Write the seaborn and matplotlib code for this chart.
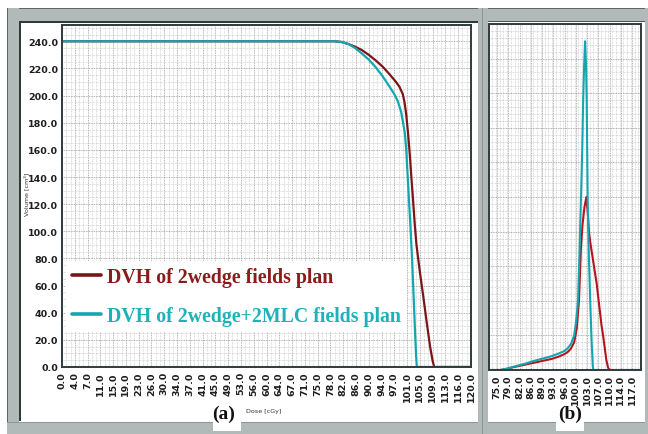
import matplotlib
matplotlib.use("Agg")
import matplotlib.pyplot as plt
from matplotlib.patches import Rectangle
from matplotlib.lines import Line2D
from matplotlib.ticker import MultipleLocator, FixedLocator, FixedFormatter
import numpy as np
import pandas as pd
import seaborn as sns

# ---- cumulative DVH (panel a): dose [cGy] vs volume [cm3] ----
cum_dose_wedge = [0, 80, 82, 84, 86, 88, 90, 92, 94, 96, 98, 99, 100, 100.5, 101,
                  101.5, 102, 102.5, 103, 103.5, 104, 105, 106, 107, 108, 108.7, 109.2, 120]
cum_vol_wedge = [240, 240, 239.5, 238, 236, 233.5, 230, 226, 221.5, 216, 210, 206.5, 201, 195, 186,
                 173, 158, 140, 123, 105, 90, 70, 52, 33, 15, 5, 0, 0]

cum_dose_mlc = [0, 80, 82, 84, 86, 88, 90, 92, 94, 96, 97.5, 98.5, 99.5, 100, 100.6,
                101, 101.5, 101.8, 102.2, 102.7, 103.2, 103.6, 103.9, 104.1, 120]
cum_vol_mlc = [240, 240, 239.5, 238, 235, 231, 226.5, 221, 214.5, 207, 201, 196, 188, 181, 172,
               160, 137, 123, 105, 80, 50, 25, 8, 0, 0]

# ---- differential DVH (panel b): dose [cGy] vs relative volume ----
diff_dose_wedge = [72.5, 76, 78, 80, 82, 84, 86, 88, 90, 92, 94, 95, 96, 97, 98, 99, 99.8,
                   100.5, 101.1, 101.6, 102.2, 102.8, 103.2, 103.6, 104, 104.5, 105, 105.5,
                   106, 106.5, 107, 107.5, 108, 108.5, 109, 109.5, 110, 120]
diff_vol_wedge = [0, 0, 0.3, 0.8, 1.2, 1.6, 2.0, 2.4, 2.8, 3.2, 3.8, 4.2, 4.6, 5.2, 6.2, 8, 12,
                  20, 35, 42, 47, 50, 46, 40, 37, 34, 31, 28, 25, 21, 17, 13, 10, 6.5, 3, 0.8, 0, 0]

diff_dose_mlc = [72.5, 76, 78, 80, 82, 84, 86, 88, 90, 92, 94, 96, 97, 98, 99, 99.6, 100.2,
                 100.7, 101.1, 101.5, 101.8, 102.1, 102.4, 102.7, 102.9, 103.2, 103.6, 104,
                 104.4, 104.8, 105, 120]
diff_vol_mlc = [0, 0, 0.4, 0.9, 1.4, 1.9, 2.5, 3.0, 3.5, 4.0, 4.7, 5.5, 6.3, 7.5, 10, 14, 20,
                35, 49, 63, 78, 88, 95, 88, 78, 50, 32, 20, 9, 1, 0, 0]

# ---- axis tick labels ----
xa_ticks = list(np.linspace(0, 120, 33))
xa_labels = ["0.0", "4.0", "7.0", "11.0", "15.0", "19.0", "23.0", "26.0", "30.0", "34.0",
             "37.0", "41.0", "45.0", "49.0", "53.0", "56.0", "60.0", "64.0", "67.0", "71.0",
             "75.0", "78.0", "82.0", "86.0", "90.0", "94.0", "97.0", "101.0", "105.0",
             "109.0", "113.0", "116.0", "120.0"]
xb_ticks = list(np.linspace(75, 117, 13))
xb_labels = ["75.0", "79.0", "82.0", "86.0", "89.0", "93.0", "96.0", "100.0", "103.0",
             "107.0", "110.0", "114.0", "117.0"]
ya_ticks = [0, 20, 40, 60, 80, 100, 120, 140, 160, 180, 200, 220, 240]

series_names = ["DVH of 2wedge fields plan", "DVH of 2wedge+2MLC fields plan"]
line_colors = ["#7c1518", "#14a6b0"]
text_colors = ["#8a1c1c", "#1eb1b8"]
diff_colors = ["#b3141e", "#14a6b0"]

cum_df = pd.concat([
    pd.DataFrame({"dose": cum_dose_wedge, "volume": cum_vol_wedge, "plan": series_names[0]}),
    pd.DataFrame({"dose": cum_dose_mlc, "volume": cum_vol_mlc, "plan": series_names[1]}),
])
diff_df = pd.concat([
    pd.DataFrame({"dose": diff_dose_wedge, "volume": diff_vol_wedge, "plan": series_names[0]}),
    pd.DataFrame({"dose": diff_dose_mlc, "volume": diff_vol_mlc, "plan": series_names[1]}),
])

sns.set_theme(style="white")
plt.rcParams["font.family"] = ["Liberation Sans Narrow", "DejaVu Sans"]

W, H = 648, 435
fig = plt.figure(figsize=(W / 100, H / 100), dpi=100)
fig.patch.set_facecolor("white")


def px_rect(x, y, w, h, color, z=-5, **kw):
    """Rectangle given in pixel coordinates measured from the top-left corner."""
    r = Rectangle((x / W, 1 - (y + h) / H), w / W, h / H, transform=fig.transFigure,
                  facecolor=color, edgecolor="none", zorder=z, **kw)
    fig.add_artist(r)


# window frame
gray = "#b2b9b9"
dark = "#5f6666"
px_rect(7, 9, W - 7, 13, gray)           # title bar
px_rect(7, 9, W - 7, 1, dark)
px_rect(7, 9, 12, H - 9, gray)           # left border
px_rect(7, 9, 1, H - 9, dark)
px_rect(7, 423, W - 7, 12, gray)         # bottom bar
px_rect(7, 423, W - 7, 1, "#8e9595")
px_rect(478, 9, 10, H - 9, gray)         # divider between panels
px_rect(482, 9, 1, H - 9, "#8e9595")
px_rect(645, 9, 3, H - 9, gray)          # right edge
px_rect(19, 22, 1.5, 400, "#2f3a3a")     # inner edge of left panel
px_rect(19, 22, 459, 1.5, "#2f3a3a")
px_rect(488, 22, 157, 1.2, "#4a5555")
# white tabs behind the panel captions
px_rect(213, 400, 28, 32, "white", z=-4)
px_rect(556, 400, 28, 32, "white", z=-4)

# ---- panel a ----
axa = fig.add_axes([62 / W, 1 - 368 / H, 409 / W, 342 / H])
sns.lineplot(data=cum_df, x="dose", y="volume", hue="plan", palette=line_colors,
             estimator=None, linewidth=1.6, legend=False, ax=axa)
axa.set_xlim(0, 120)
axa.set_ylim(0, 252)
axa.xaxis.set_major_locator(FixedLocator(xa_ticks))
axa.xaxis.set_major_formatter(FixedFormatter(xa_labels))
axa.xaxis.set_minor_locator(MultipleLocator(1.25))
axa.yaxis.set_major_locator(FixedLocator(ya_ticks))
axa.yaxis.set_major_formatter(FixedFormatter([f"{v:.1f}" for v in ya_ticks]))
axa.yaxis.set_minor_locator(MultipleLocator(5))
axa.tick_params(axis="x", which="major", rotation=90, length=0, pad=3, labelsize=6.8,
                labelcolor="#1e1e1e")
axa.tick_params(axis="y", which="major", length=0, pad=3, labelsize=6.8, labelcolor="#1e1e1e")
axa.tick_params(which="minor", length=0)
axa.set_xlabel("")
axa.set_ylabel("")

# ---- panel b ----
axb = fig.add_axes([489 / W, 1 - 371 / H, 152 / W, 346 / H])
sns.lineplot(data=diff_df, x="dose", y="volume", hue="plan", palette=diff_colors,
             estimator=None, linewidth=1.5, legend=False, ax=axb)
axb.set_xlim(72.5, 119.8)
axb.set_ylim(0, 100)
axb.xaxis.set_major_locator(FixedLocator(xb_ticks))
axb.xaxis.set_major_formatter(FixedFormatter(xb_labels))
axb.xaxis.set_minor_locator(MultipleLocator(3.5 / 3))
axb.yaxis.set_major_locator(MultipleLocator(10))
axb.yaxis.set_minor_locator(MultipleLocator(2))
axb.tick_params(axis="x", which="major", rotation=90, length=0, pad=3, labelsize=6.8,
                labelcolor="#1e1e1e")
axb.tick_params(axis="y", which="both", length=0, labelleft=False)
axb.tick_params(which="minor", length=0)
axb.set_xlabel("")
axb.set_ylabel("")

for ax in (axa, axb):
    ax.set_facecolor("white")
    ax.grid(which="major", color="#9a9a9a", linestyle=(0, (1, 1)), linewidth=0.6)
    ax.grid(which="minor", color="#c4c4c4", linestyle=(0, (1, 1)), linewidth=0.5)
    ax.set_axisbelow(True)
    for s in ax.spines.values():
        s.set_color("#2f3a3a")
        s.set_linewidth(1.4)
    for lbl in ax.get_xticklabels() + ax.get_yticklabels():
        lbl.set_fontweight("bold")

# legend on panel a
handles = [Line2D([], [], color=c, linewidth=2.6) for c in line_colors]
leg = axa.legend(handles, series_names, loc="lower left", bbox_to_anchor=(0.0, 0.091),
                 borderaxespad=0.2, frameon=True, facecolor="white", edgecolor="none",
                 framealpha=1, handlelength=1.45, handletextpad=0.3, labelspacing=0.95,
                 borderpad=0.3, fancybox=False,
                 prop=dict(family="Liberation Serif", weight="bold", size=14.3))
for txt, c in zip(leg.get_texts(), text_colors):
    txt.set_color(c)

# captions and axis titles
fig.text(224 / W, 1 - 414 / H, "(a)", ha="center", va="center", fontsize=14,
         family="Liberation Serif", weight="bold", color="#111111")
fig.text(570 / W, 1 - 414 / H, "(b)", ha="center", va="center", fontsize=14,
         family="Liberation Serif", weight="bold", color="#111111")
fig.text(264 / W, 1 - 412 / H, "Dose [cGy]", ha="center", va="center", fontsize=4.6,
         color="#333333")
fig.text(26 / W, 1 - 194 / H, "Volume [cm³]", ha="center", va="center", fontsize=4.6,
         rotation=90, color="#333333")

fig.savefig("out.png", dpi=100, facecolor="white")
